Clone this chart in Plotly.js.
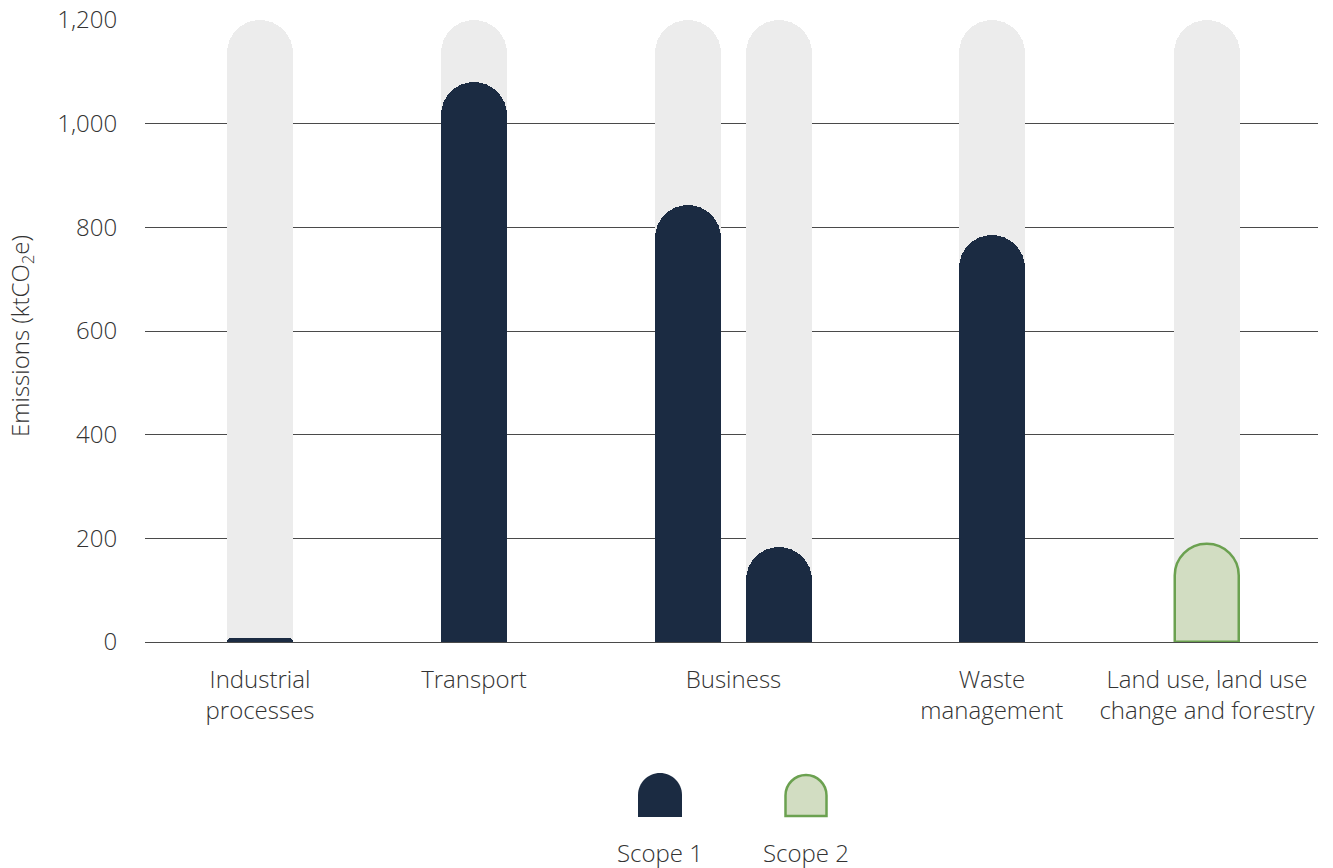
<!DOCTYPE html>
<html>
<head>
<meta charset="utf-8">
<script src="https://cdn.plot.ly/plotly-3.0.1.min.js"></script>
<style>html,body{margin:0;padding:0;background:#fff;}#chart{width:1333px;height:868px;}</style>
</head>
<body>
<div id="chart"></div>
<script>
// ---- data ----
const barLabels = ['Industrial processes', 'Transport', 'Business', 'Business', 'Waste management', 'Land use, land use change and forestry'];
const scope1 = [8, 1080, 843, 183, 785, null];
const scope2 = [null, null, null, null, null, 190];
const capacity = [1200, 1200, 1200, 1200, 1200, 1200];
const sectorLabels = ['Industrial<br>processes', 'Transport', 'Business', 'Waste<br>management', 'Land use, land use<br>change and forestry'];
const yTickVals = [0, 200, 400, 600, 800, 1000, 1200];
const yTickText = ['0', '200', '400', '600', '800', '1,000', '1,200'];
const legendNames = ['Scope 1', 'Scope 2'];
const yTitle = 'Emissions (ktCO<sub>2</sub>e)';

// ---- layout positions (not data) ----
const barPos = [0, 1, 2, 2.425, 3.42, 4.425];
const labelPos = [0, 1, 2.2125, 3.42, 4.425];
const barWidth = 0.308;

const navy = '#1b2b42';
const grey = '#ececec';
const greenFill = '#d2ddc2';
const greenLine = '#6ba150';
const textColor = '#333333';
const fontFamily = '"Open Sans", Lato, sans-serif';
const fsize = 24;

function pick(vals) {
  const xs = [], ys = [], ts = [];
  vals.forEach((v, i) => { if (v !== null) { xs.push(barPos[i]); ys.push(v); ts.push(barLabels[i]); } });
  return { xs, ys, ts };
}
const s1 = pick(scope1), s2 = pick(scope2);

const traces = [
  {
    type: 'bar', x: barPos, y: capacity, width: barWidth,
    marker: { color: grey, cornerradius: '50%', line: { width: 0 } },
    hoverinfo: 'skip', showlegend: false
  },
  {
    type: 'bar', name: legendNames[0], x: s1.xs, y: s1.ys, width: barWidth, xaxis: 'x2',
    hovertext: s1.ts, hoverinfo: 'text+y',
    marker: { color: navy, cornerradius: '50%', line: { width: 0 } },
    showlegend: false
  },
  {
    type: 'bar', name: legendNames[1], x: s2.xs, y: s2.ys, width: barWidth - 0.012, xaxis: 'x3',
    hovertext: s2.ts, hoverinfo: 'text+y',
    marker: { color: greenFill, cornerradius: '50%', line: { width: 2.5, color: greenLine } },
    showlegend: false
  }
];

function iconPath(r) {
  const k = 0.5523 * r;
  return `M ${-r},0 L ${-r},${r} C ${-r},${r + k} ${-k},${2 * r} 0,${2 * r} C ${k},${2 * r} ${r},${r + k} ${r},${r} L ${r},0 Z`;
}

const plotL = 145, plotR = 1318, plotT = 20, plotB = 642;
const pw = plotR - plotL, ph = plotB - plotT;
const px2x = p => (p - plotL) / pw;
const px2y = p => (plotB - p) / ph;

const legendCenters = [660, 806];
const shapes = [
  {
    type: 'path', xref: 'paper', yref: 'paper', xsizemode: 'pixel', ysizemode: 'pixel',
    xanchor: px2x(legendCenters[0]), yanchor: px2y(817), path: iconPath(22),
    fillcolor: navy, line: { width: 0 }
  },
  {
    type: 'path', xref: 'paper', yref: 'paper', xsizemode: 'pixel', ysizemode: 'pixel',
    xanchor: px2x(legendCenters[1]), yanchor: px2y(816), path: iconPath(20.5),
    fillcolor: greenFill, line: { width: 2.5, color: greenLine }
  }
];

const textFont = { family: fontFamily, size: fsize, color: textColor, weight: 300 };

const annotations = legendNames.map((n, i) => ({
  xref: 'paper', yref: 'paper', x: px2x(legendCenters[i]), y: px2y(852),
  text: n, showarrow: false, xanchor: 'center', yanchor: 'middle',
  font: textFont
}));
annotations.push({
  xref: 'paper', yref: 'paper', x: px2x(21), y: px2y(336),
  text: yTitle, textangle: -90, showarrow: false, xanchor: 'center', yanchor: 'middle',
  font: { family: fontFamily, size: 24, color: textColor, weight: 300 }
});

const xRange = [-(260 - plotL) / 214, (plotR - 260) / 214];
const layout = {
  width: 1333, height: 868,
  margin: { l: plotL, r: 1333 - plotR, t: plotT, b: 868 - plotB, pad: 0 },
  paper_bgcolor: '#ffffff', plot_bgcolor: '#ffffff',
  barmode: 'overlay', bargap: 0,
  font: textFont,
  xaxis: {
    type: 'linear', range: xRange,
    tickmode: 'array', tickvals: labelPos, ticktext: sectorLabels,
    showgrid: false, zeroline: false, showline: false,
    ticks: 'outside', ticklen: 16, tickcolor: 'rgba(0,0,0,0)',
    tickfont: textFont, fixedrange: true
  },
  xaxis2: { type: 'linear', range: xRange, overlaying: 'x', visible: false, fixedrange: true },
  xaxis3: { type: 'linear', range: xRange, overlaying: 'x', visible: false, fixedrange: true },
  yaxis: {
    range: [0, 1200], tickmode: 'array', tickvals: yTickVals, ticktext: yTickText,
    showgrid: true, gridcolor: '#4a4a4a', gridwidth: 1,
    zeroline: true, zerolinecolor: '#4a4a4a', zerolinewidth: 1.2,
    showline: false,
    ticks: 'outside', ticklen: 22, tickcolor: 'rgba(0,0,0,0)',
    tickfont: textFont, fixedrange: true
  },
  shapes: shapes,
  annotations: annotations,
  showlegend: false
};

Plotly.newPlot('chart', traces, layout, { displayModeBar: false });
</script>
</body>
</html>
